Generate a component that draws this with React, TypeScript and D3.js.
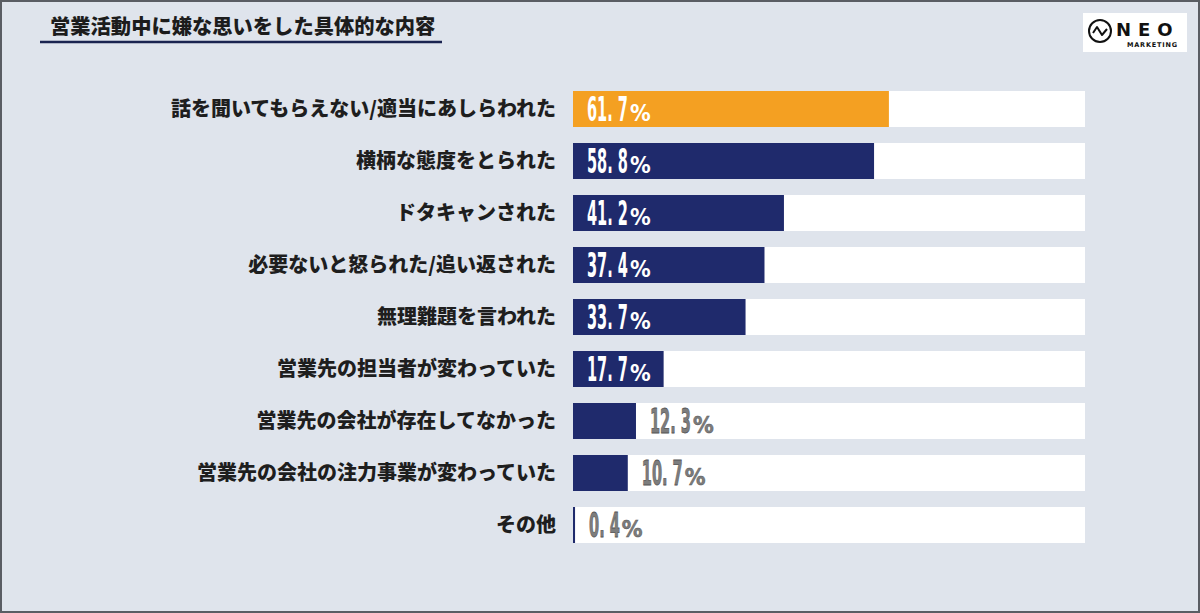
import React, { useRef, useEffect } from "react";
import * as d3 from "d3";

const categories = [
  "話を聞いてもらえない/適当にあしらわれた",
  "横柄な態度をとられた",
  "ドタキャンされた",
  "必要ないと怒られた/追い返された",
  "無理難題を言われた",
  "営業先の担当者が変わっていた",
  "営業先の会社が存在してなかった",
  "営業先の会社の注力事業が変わっていた",
  "その他",
];
const values = [61.7, 58.8, 41.2, 37.4, 33.7, 17.7, 12.3, 10.7, 0.4];
const title = "営業活動中に嫌な思いをした具体的な内容";

const W = 1200;
const H = 613;

const App = () => {
  const svgRef = useRef<SVGSVGElement>(null);

  useEffect(() => {
    const svg = d3.select(svgRef.current);
    svg.selectAll("*").remove();

    svg.attr("width", W).attr("height", H);

    svg.append("rect")
      .attr("x", 1).attr("y", 1)
      .attr("width", W - 2).attr("height", H - 2)
      .attr("fill", "#dfe4ec")
      .attr("stroke", "#5a5d63")
      .attr("stroke-width", 2);

    // title
    svg.append("text")
      .attr("x", 50).attr("y", 34)
      .attr("font-family", "'Noto Sans CJK JP', sans-serif")
      .attr("font-weight", 900)
      .attr("font-size", 20.3)
      .attr("fill", "#1c1c1c")
      .text(title);
    svg.append("line")
      .attr("x1", 40).attr("x2", 442)
      .attr("y1", 42).attr("y2", 42)
      .attr("stroke", "#1a2350").attr("stroke-width", 2.5);

    // logo
    const logo = svg.append("g");
    logo.append("rect")
      .attr("x", 1083).attr("y", 13).attr("width", 104).attr("height", 39)
      .attr("fill", "#ffffff");
    logo.append("circle")
      .attr("cx", 1100).attr("cy", 31).attr("r", 11)
      .attr("fill", "none").attr("stroke", "#111").attr("stroke-width", 2);
    logo.append("path")
      .attr("d", "M1093,33 L1097,27 L1102,35 L1107,29")
      .attr("fill", "none").attr("stroke", "#111").attr("stroke-width", 2)
      .attr("stroke-linejoin", "round");
    logo.append("text")
      .attr("x", 1116).attr("y", 36)
      .attr("font-family", "'DejaVu Sans', sans-serif")
      .attr("font-weight", "bold").attr("font-size", 18)
      .attr("letter-spacing", 7).attr("fill", "#111")
      .text("NEO");
    logo.append("text")
      .attr("x", 1127).attr("y", 47)
      .attr("font-family", "'DejaVu Sans', sans-serif")
      .attr("font-weight", "bold").attr("font-size", 6.5)
      .attr("letter-spacing", 0.8).attr("fill", "#111")
      .text("MARKETING");

    const x = d3.scaleLinear().domain([0, 100]).range([573, 1085]);
    const y = d3.scaleBand<string>()
      .domain(categories)
      .range([83, 551])
      .paddingInner(16 / 52)
      .paddingOuter(8 / 52);

    const rows = svg.append("g")
      .selectAll("g")
      .data(categories)
      .enter()
      .append("g")
      .attr("transform", (d) => `translate(0,${y(d)})`);

    // white track
    rows.append("rect")
      .attr("x", x(0)).attr("y", 0)
      .attr("width", x(100) - x(0))
      .attr("height", y.bandwidth())
      .attr("fill", "#ffffff");

    rows.append("rect")
      .attr("x", x(0)).attr("y", 0)
      .attr("width", (d, i) => Math.max(2, x(values[i]) - x(0)))
      .attr("height", y.bandwidth())
      .attr("fill", (d, i) => (i === 0 ? "#f4a022" : "#1f2a6c"));

    rows.append("text")
      .attr("x", 556)
      .attr("y", y.bandwidth() / 2 + 7)
      .attr("text-anchor", "end")
      .attr("font-family", "'Noto Sans CJK JP', sans-serif")
      .attr("font-weight", 900)
      .attr("font-size", 20)
      .attr("fill", "#1e1e1e")
      .text((d) => d);

    // value labels: condensed number + percent sign
    rows.each(function (d, i) {
      const v = values[i];
      const inside = v >= 15;
      const lx = inside ? x(0) + 14 : x(v) + 14;
      const color = inside ? "#ffffff" : "#7d7d7d";
      const g = d3.select(this).append("g")
        .attr("transform", `translate(${lx},${y.bandwidth() / 2 + 12})`);
      const num = g.append("text")
        .attr("transform", "scale(0.49,1)")
        .attr("font-family", "'DejaVu Sans Condensed', 'DejaVu Sans', sans-serif")
        .attr("font-weight", "bold")
        .attr("font-size", 33)
        .attr("fill", color)
        .attr("stroke", inside ? "none" : "#555")
        .attr("stroke-width", inside ? 0 : 0.8)
        .attr("xml:space", "preserve")
        .text(v.toFixed(1).replace(".", ". "));
      const w = (num.node() as SVGTextElement).getComputedTextLength() * 0.49;
      g.append("text")
        .attr("x", w + 2)
        .attr("y", 0)
        .attr("font-family", "'DejaVu Sans Condensed', 'DejaVu Sans', sans-serif")
        .attr("font-weight", "bold")
        .attr("font-size", 23)
        .attr("fill", color)
        .attr("stroke", inside ? "none" : "#555")
        .attr("stroke-width", inside ? 0 : 0.5)
        .text("%");
    });
  }, []);

  return (
    <svg
      ref={svgRef}
      style={{ position: "fixed", top: 0, left: 0, display: "block" }}
    ></svg>
  );
};

export default App;
